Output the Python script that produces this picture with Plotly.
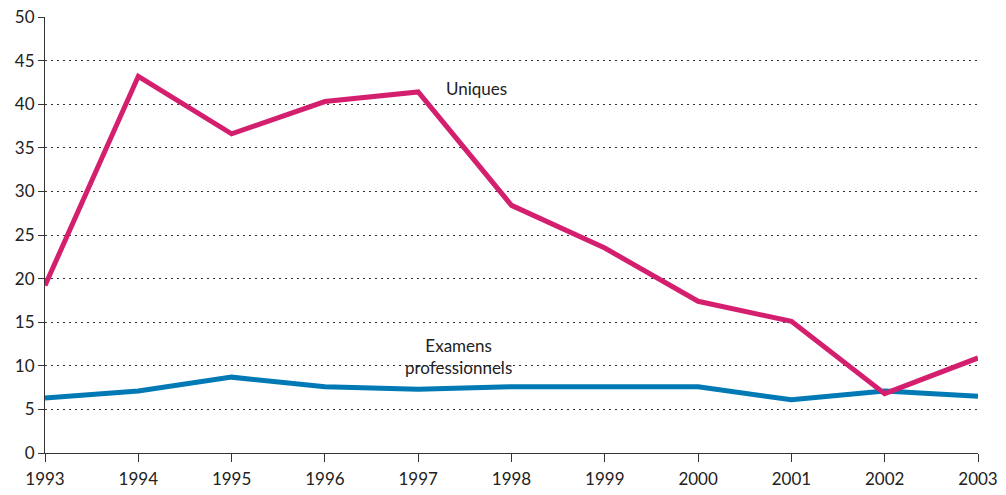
import plotly.graph_objects as go

annees = [1993, 1994, 1995, 1996, 1997, 1998, 1999, 2000, 2001, 2002, 2003]
uniques = [19.2, 43.2, 36.6, 40.3, 41.4, 28.4, 23.5, 17.4, 15.1, 6.8, 10.9]
examens_pro = [6.3, 7.1, 8.7, 7.6, 7.3, 7.6, 7.6, 7.6, 6.1, 7.1, 6.5]

rose = "#D41F6F"
bleu = "#0079B5"
police = "Lato, Open Sans, sans-serif"

fig = go.Figure()
fig.add_scatter(x=annees, y=examens_pro, mode="lines", line=dict(color=bleu, width=5), name="Examens professionnels")
fig.add_scatter(x=annees, y=uniques, mode="lines", line=dict(color=rose, width=5), name="Uniques")

fig.add_annotation(x=1997.62, y=41.8, text="Uniques", showarrow=False, font=dict(size=17, color="#222"))
fig.add_annotation(x=1997.43, y=11.1, text="Examens<br>professionnels", showarrow=False,
                   font=dict(size=17, color="#222"))

fig.update_layout(
    width=1006, height=495,
    margin=dict(l=45, r=28, t=17, b=42),
    plot_bgcolor="white", paper_bgcolor="white",
    showlegend=False,
    font=dict(family=police, size=17, color="#222"),
)
fig.update_xaxes(range=[1993, 2003], tickmode="array", tickvals=annees, showgrid=False,
                 showline=True, linecolor="#333", linewidth=1, ticks="outside", ticklen=8,
                 tickcolor="#333", zeroline=False, ticklabelstandoff=3, automargin=False)
fig.update_yaxes(range=[0, 50], dtick=5, showgrid=True, gridcolor="#333", griddash="2px,4px", gridwidth=1,
                 showline=True, linecolor="#333", linewidth=1, ticks="outside", ticklen=6,
                 tickcolor="#333", zeroline=False, automargin=False)
# pas de marge autour du graphique dans la page
fig.write_html("out.html", config={"displayModeBar": False},
               post_script="document.body.style.margin='0';document.body.style.overflow='hidden';")
